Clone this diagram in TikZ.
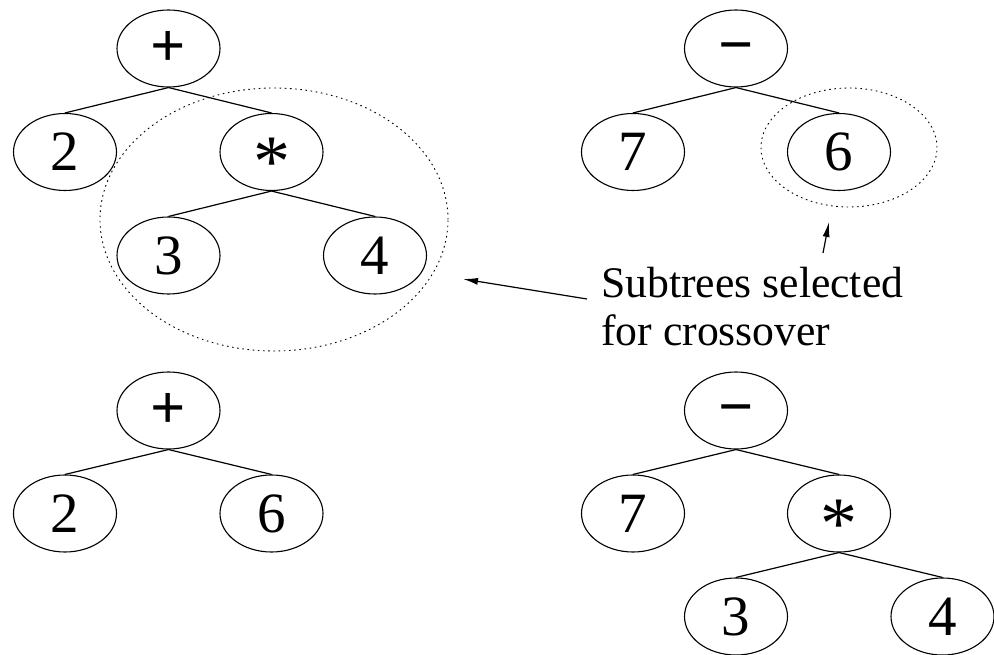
\documentclass[tikz,border=0pt]{standalone}
\usepackage{fontspec}
\setmainfont{Liberation Serif}
\usetikzlibrary{shapes.geometric,arrows.meta}
\newcommand\cg[2]{\smash{\raisebox{-#1em}{#2}}}
\newcommand\opfont{\fontsize{62}{64}\selectfont\bfseries}
\newcommand\starfont{\fontsize{74}{76}\selectfont}
\tikzset{
  tnode/.style={draw, ellipse, line width=1.1pt, minimum width=103pt, minimum height=77pt, inner sep=0pt, font=\fontsize{57}{60}\selectfont},
  edge/.style={line width=1.2pt},
  selring/.style={draw, ellipse, dash pattern=on 1.6pt off 3.6pt, line width=0.9pt, inner sep=0pt},
  pointer/.style={line width=1.2pt, -{Latex[length=15pt,width=7pt]}},
}
\begin{document}
\begin{tikzpicture}[x=1pt,y=-1pt]
\useasboundingbox (0,0) rectangle (994,655);
% selection rings
\node[selring, minimum width=348pt, minimum height=263pt] (ringA) at (274,219.5) {};
\node[selring, minimum width=176pt, minimum height=119pt] (ringB) at (849,147.5) {};
% top-left tree
\node[tnode] (p1) at (168.5,48.5) {\opfont +};
\node[tnode] (a2) at (65,152) {2};
\node[tnode] (m1) at (271.5,152) {\starfont\cg{0.47}{*}};
\node[tnode] (a3) at (168.5,255.5) {3};
\node[tnode] (a4) at (375,255.5) {4};
\draw[edge] (p1.south) -- (a2.north);
\draw[edge] (p1.south) -- (m1.north);
\draw[edge] (m1.south) -- (a3.north);
\draw[edge] (m1.south) -- (a4.north);
% top-right tree
\node[tnode] (s1) at (736,48.5) {\opfont\cg{0.27}{−}};
\node[tnode] (b7) at (633,152) {7};
\node[tnode] (b6) at (839,152) {6};
\draw[edge] (s1.south) -- (b7.north);
\draw[edge] (s1.south) -- (b6.north);
% bottom-left tree
\node[tnode] (p2) at (168.5,410.5) {\opfont +};
\node[tnode] (c2) at (65,513.5) {2};
\node[tnode] (c6) at (271.5,513.5) {6};
\draw[edge] (p2.south) -- (c2.north);
\draw[edge] (p2.south) -- (c6.north);
% bottom-right tree
\node[tnode] (s2) at (736,410.5) {\opfont\cg{0.27}{−}};
\node[tnode] (d7) at (633,513.5) {7};
\node[tnode] (m2) at (839,513.5) {\starfont\cg{0.47}{*}};
\node[tnode] (d3) at (736,616.5) {3};
\node[tnode] (d4) at (942.5,616.5) {4};
\draw[edge] (s2.south) -- (d7.north);
\draw[edge] (s2.south) -- (m2.north);
\draw[edge] (m2.south) -- (d3.north);
\draw[edge] (m2.south) -- (d4.north);
% caption
\node[anchor=base west, align=left, inner sep=0pt, font=\fontsize{43.7}{48}\selectfont] (cap) at (601,345) {Subtrees selected\\for crossover};
\coordinate (tA) at (587,299);
\coordinate (hA) at (463,279);
\coordinate (tB) at (823,253);
\coordinate (hB) at (829,222);
\draw[pointer] (tA) -- (hA);
\draw[pointer] (tB) -- (hB);
\end{tikzpicture}
\end{document}
